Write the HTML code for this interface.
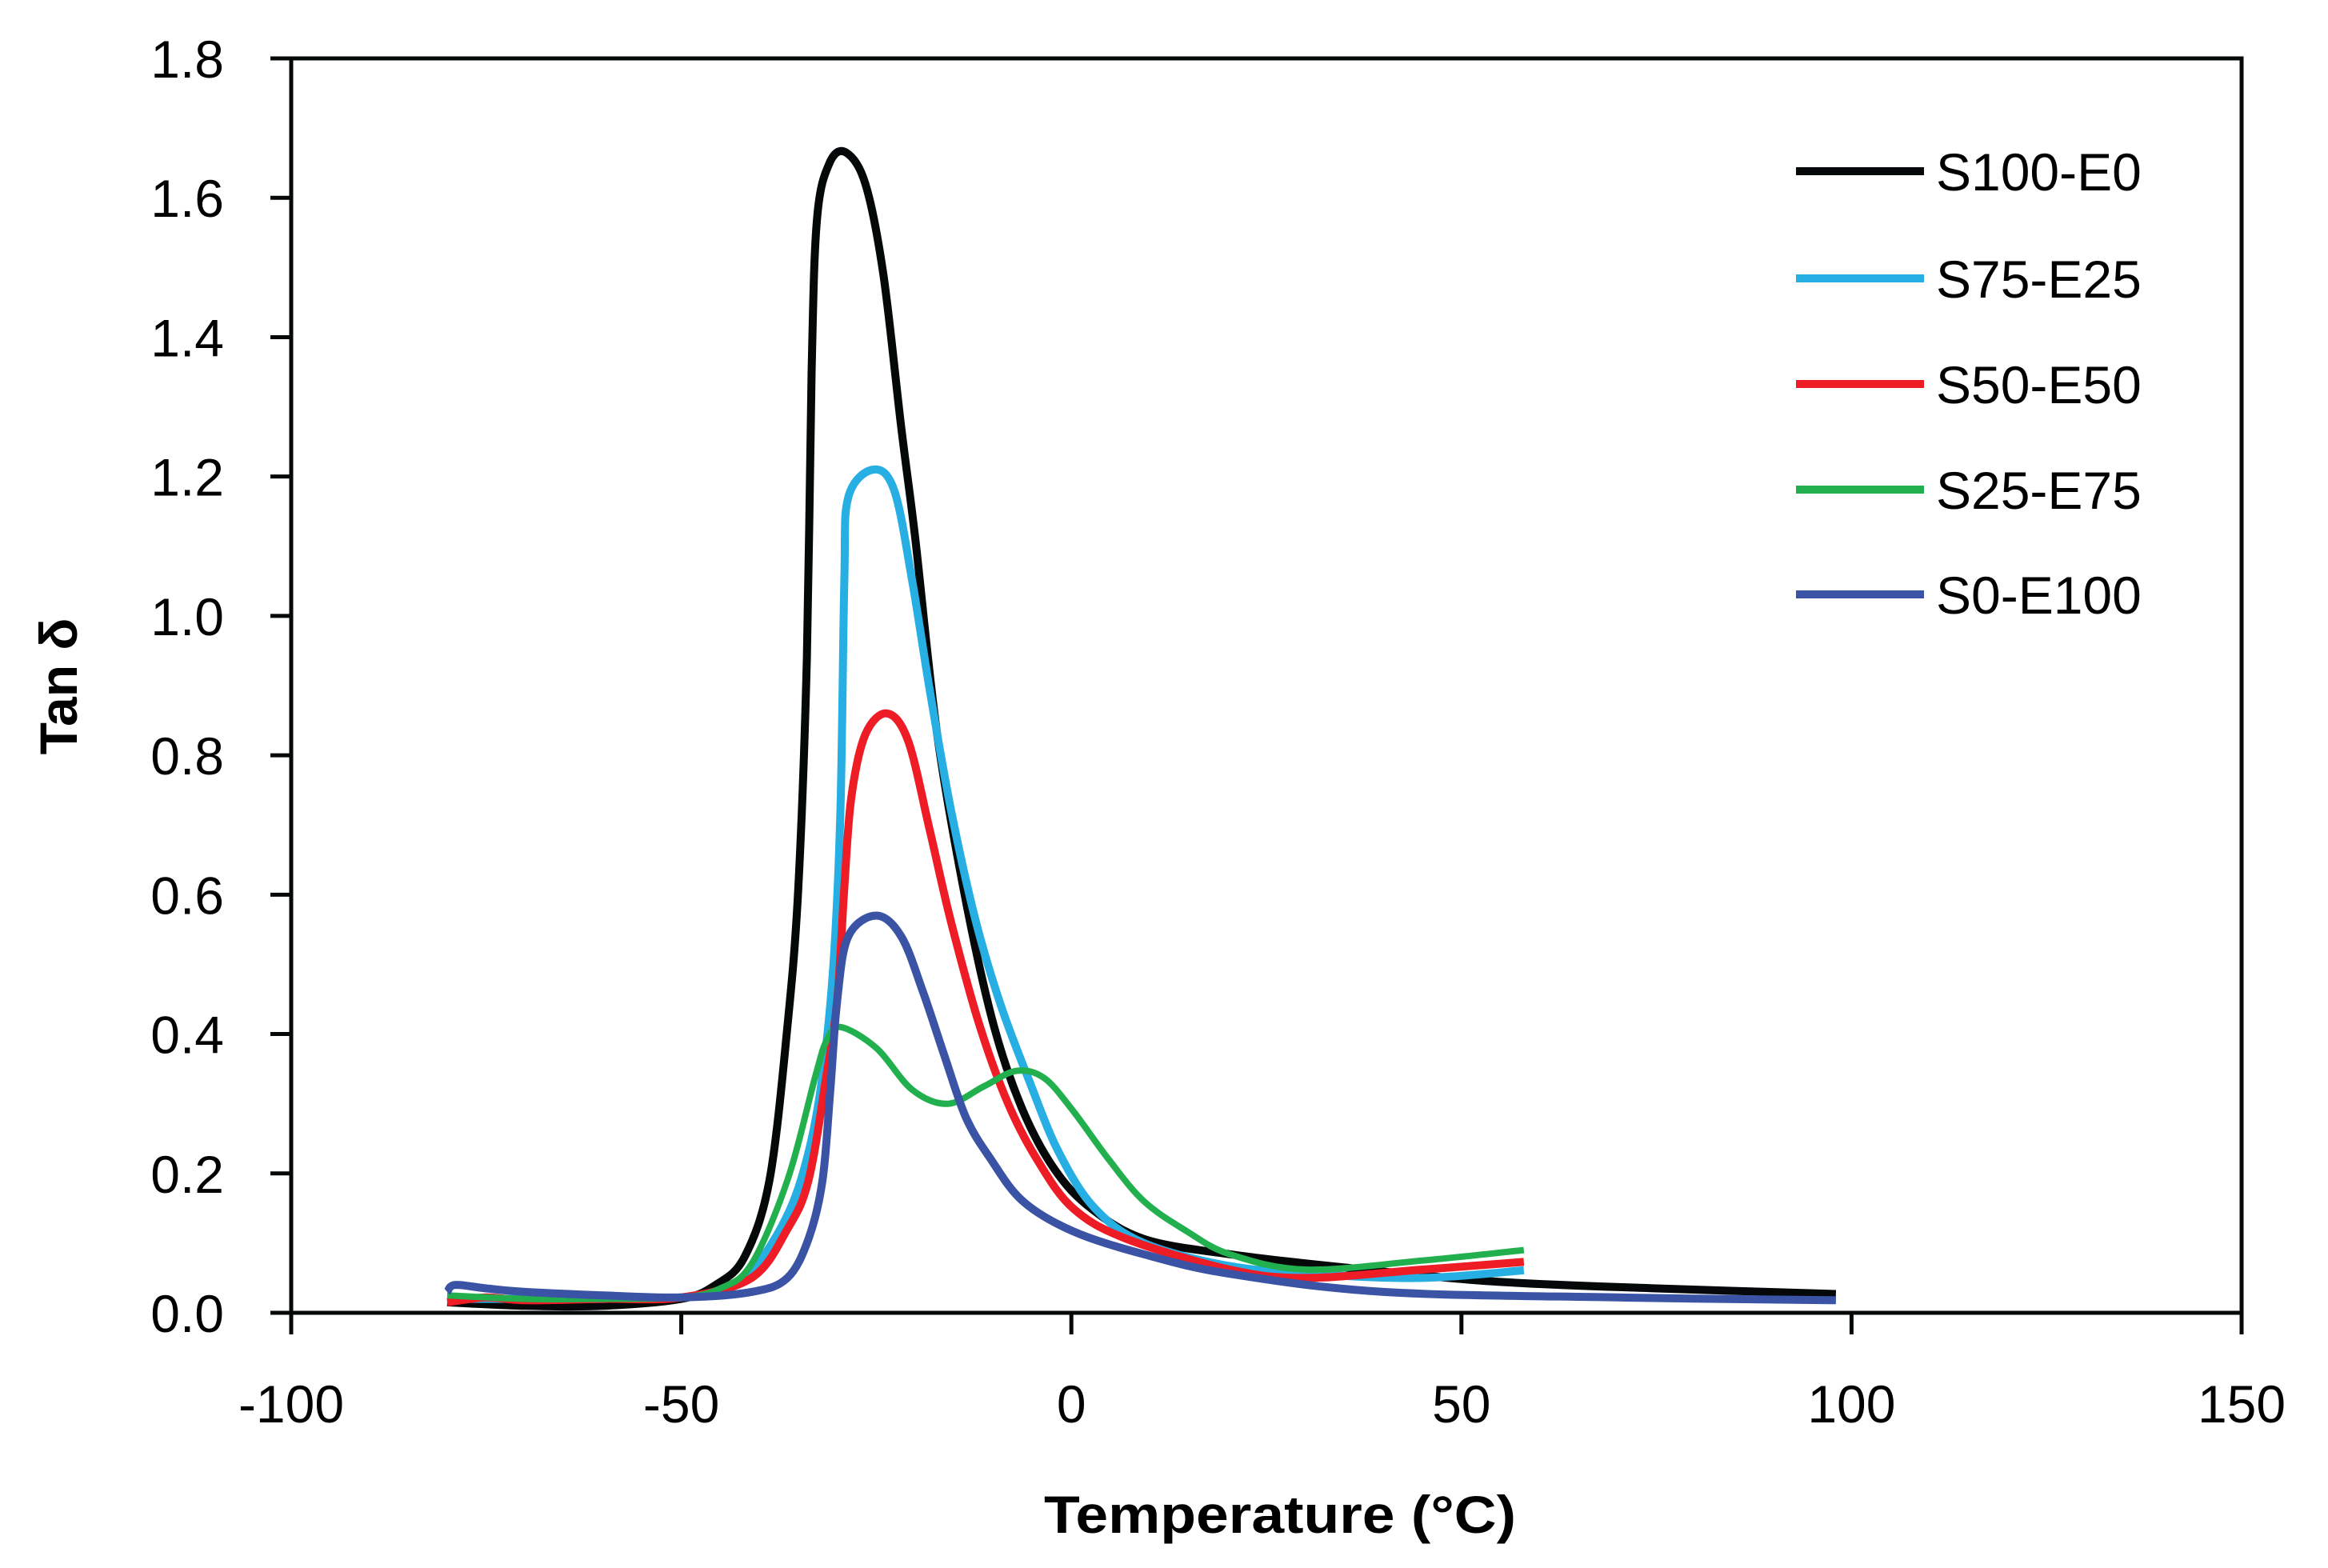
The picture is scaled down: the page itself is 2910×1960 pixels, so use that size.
<!DOCTYPE html>
<html><head><meta charset="utf-8"><style>
html,body{margin:0;padding:0;background:#fff;}
svg{display:block;}
text{font-family:"Liberation Sans",sans-serif;fill:#000;}
</style></head><body>
<svg id="chart" width="2910" height="1960" viewBox="0 0 2910 1960" xmlns="http://www.w3.org/2000/svg">
<g id="axes"></g>
<g id="series"></g>
<g id="legend"></g>
<text x="1600" y="1916" font-size="66" font-weight="bold" text-anchor="middle" textLength="590" lengthAdjust="spacingAndGlyphs">Temperature (°C)</text>
<text transform="translate(96,858) rotate(-90)" font-size="66" font-weight="bold" text-anchor="middle">Tan δ</text>
</svg>
<script>
const xTicks = [-100, -50, 0, 50, 100, 150];
const yTicks = [0.0, 0.2, 0.4, 0.6, 0.8, 1.0, 1.2, 1.4, 1.6, 1.8];
const seriesNames = ["S100-E0", "S75-E25", "S50-E50", "S25-E75", "S0-E100"];
const seriesColors = ["#050808", "#27aee3", "#ee1c25", "#22b04f", "#3a53a4"];
const tS100 = [-80,-70,-60,-50,-45.6,-41.9,-38.7,-36.4,-35,-33.9,-33.3,-32.6,-31,-28.9,-26.4,-24.1,-21.8,-20,-17.2,-13.5,-9.9,-6.2,-2.1,2.5,9.3,20.3,35,54,75,98];
const vS100 = [0.015,0.01,0.01,0.02,0.04,0.08,0.19,0.41,0.61,0.94,1.35,1.57,1.65,1.665,1.62,1.49,1.27,1.11,0.83,0.59,0.41,0.29,0.205,0.15,0.106,0.084,0.065,0.045,0.035,0.027];
const tS75 = [-80,-70,-60,-50,-45.6,-41,-36.4,-33.7,-31.9,-30.5,-29.6,-29.1,-28.6,-25.4,-22.7,-20.4,-18.1,-15.4,-12.2,-9,-5.3,-1.6,3,9.3,20.3,32,45,58];
const vS75 = [0.02,0.02,0.02,0.022,0.03,0.06,0.14,0.23,0.34,0.5,0.72,1.05,1.17,1.21,1.18,1.05,0.89,0.72,0.56,0.44,0.33,0.23,0.15,0.1,0.067,0.055,0.05,0.061];
const tS50 = [-80,-75,-70,-60,-50,-41,-36.4,-33.7,-31.4,-30,-29.1,-28.2,-26.4,-23.6,-20.9,-18.1,-15.4,-11.7,-8.1,-4.4,0.2,7.1,20.3,30,45,58];
const vS50 = [0.015,0.022,0.018,0.02,0.022,0.05,0.12,0.19,0.34,0.45,0.61,0.74,0.83,0.86,0.82,0.69,0.56,0.41,0.3,0.22,0.15,0.106,0.062,0.05,0.062,0.073];
const tS25 = [-80,-70,-60,-50,-45,-41,-36.4,-32.8,-31.4,-29.6,-25,-20.4,-15.8,-11.2,-7.1,-3.5,0.2,4.8,9.3,14.8,20.3,30,45,58];
const vS25 = [0.025,0.02,0.02,0.022,0.035,0.07,0.19,0.34,0.39,0.41,0.38,0.32,0.3,0.325,0.347,0.337,0.29,0.22,0.16,0.117,0.084,0.062,0.075,0.09];
const tS0 = [-80,-79,-75,-70,-60,-50,-41,-36.4,-33.7,-31.9,-30.9,-30,-28.6,-25,-21.8,-19,-16.3,-13.5,-10.3,-6.2,0.2,9.3,20.3,40,70,98];
const vS0 = [0.03,0.04,0.035,0.03,0.025,0.022,0.03,0.05,0.106,0.19,0.32,0.45,0.54,0.57,0.54,0.46,0.37,0.28,0.22,0.16,0.117,0.084,0.056,0.03,0.022,0.018];

const NS = "http://www.w3.org/2000/svg";
const X0 = 364, X1 = 2802, Y0 = 1641, Y1 = 73;
function xScale(t){ return X0 + (t + 100) / 250 * (X1 - X0); }
function yScale(v){ return Y0 - v / 1.8 * (Y0 - Y1); }
function mk(tag, attrs, parent){ const e = document.createElementNS(NS, tag); for (const k in attrs) e.setAttribute(k, attrs[k]); parent.appendChild(e); return e; }

const axes = document.getElementById("axes");
let el = mk("path", {d:`M${X0},${Y1} H${X1} V${Y0} H${X0} Z`, fill:"none", stroke:"#050808", "stroke-width":5}, axes);


yTicks.forEach(v => {
  const y = yScale(v);
  const tk = mk("line", {x1:X0-26, x2:X0, y1:y, y2:y, stroke:"#050808", "stroke-width":5}, axes);
  
  
  const lb = mk("text", {x:280, y:y+24, "font-size":66, "text-anchor":"end"}, axes);
  lb.textContent = v.toFixed(1);
  
  
});
xTicks.forEach(t => {
  const x = xScale(t);
  const tk = mk("line", {x1:x, x2:x, y1:Y0, y2:Y0+27, stroke:"#050808", "stroke-width":5}, axes);
  
  
  const lb = mk("text", {x:x, y:1778, "font-size":66, "text-anchor":"middle"}, axes);
  lb.textContent = String(t);
  
  
});

function smoothPath(ts, vs){
  const p = ts.map((t,i)=>[xScale(t), yScale(vs[i])]);
  let d = `M${p[0][0].toFixed(1)},${p[0][1].toFixed(1)}`;
  for (let i=0;i<p.length-1;i++){
    const a = p[i-1]||p[i], b = p[i], c = p[i+1], e = p[i+2]||c;
    const k = 1/6;
    const c1 = [b[0]+(c[0]-a[0])*k, b[1]+(c[1]-a[1])*k];
    const c2 = [c[0]-(e[0]-b[0])*k, c[1]-(e[1]-b[1])*k];
    d += ` C${c1[0].toFixed(1)},${c1[1].toFixed(1)} ${c2[0].toFixed(1)},${c2[1].toFixed(1)} ${c[0].toFixed(1)},${c[1].toFixed(1)}`;
  }
  return d;
}
const seriesT = [tS100, tS75, tS50, tS25, tS0];
const seriesV = [vS100, vS75, vS50, vS25, vS0];
const sg = document.getElementById("series");
[0,1,2,3,4].forEach(i => {
  const pth = mk("path", {d:smoothPath(seriesT[i], seriesV[i]), fill:"none", stroke:seriesColors[i], "stroke-width":i===3?8:10, "stroke-linejoin":"round"}, sg);
  
  
});

const lg = document.getElementById("legend");
const legY = [214, 348, 480, 612, 743];
seriesNames.forEach((n,i) => {
  const ln = mk("line", {x1:2245, x2:2405, y1:legY[i], y2:legY[i], stroke:seriesColors[i], "stroke-width":10}, lg);
  
  
  const tx = mk("text", {x:2420, y:legY[i]+24, "font-size":66}, lg);
  tx.textContent = n;
  
  
});
</script>
</body></html>
